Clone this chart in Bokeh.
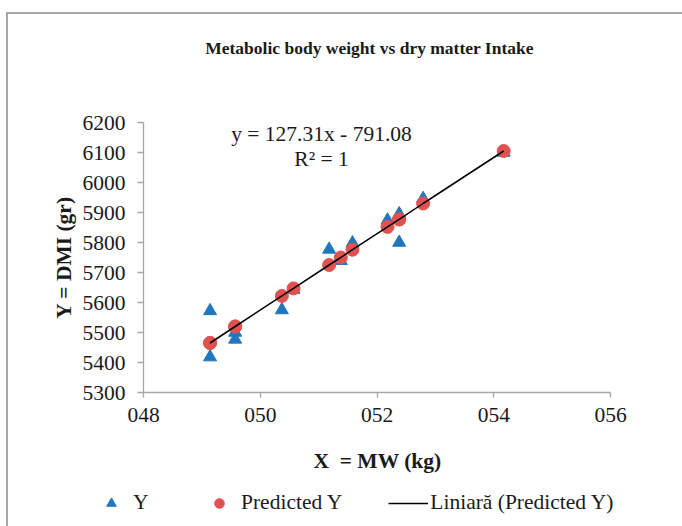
from bokeh.plotting import figure
from bokeh.models import (ColumnDataSource, FixedTicker, Label, Legend, LegendItem, Range1d)
from bokeh.embed import file_html
from bokeh.resources import INLINE
import math

# ---- data ----
mw_x = [49.14, 49.14, 49.57, 49.57, 50.37, 50.57, 51.18, 51.38, 51.58, 52.18, 52.38, 52.38, 52.79, 54.17]
dmi_y = [5572, 5418, 5500, 5477, 5575, 5643, 5777, 5739, 5798, 5874, 5895, 5800, 5946, 6100]
predicted_y = [5465, 5465, 5520, 5520, 5622, 5647, 5725, 5750, 5776, 5852, 5877, 5877, 5930, 6105]

x_ticks = [48, 50, 52, 54, 56]
x_tick_labels = ["048", "050", "052", "054", "056"]
y_ticks = [5300, 5400, 5500, 5600, 5700, 5800, 5900, 6000, 6100, 6200]
x_bounds = (48, 56)
y_bounds = (5300, 6200)

title_text = "Metabolic body weight vs dry matter Intake"
x_label = "X\u00a0 = MW (kg)"
y_label = "Y = DMI (gr)"
eq_text = "y = 127.31x - 791.08"
r2_text = "R² = 1"
legend_labels = ["Y", "Predicted Y", "Liniară (Predicted Y)"]

FONT = "Liberation Serif"
FS = "21.5px"
BLUE = "#2177be"
RED = "#e05252"
AXIS = "#a6a6a6"
TXT = "#1a1a1a"
BORDER = "#a8a8a8"

# the plotting frame fills the whole canvas; the ranges are chosen so that the
# axis interval 048-056 / 5300-6200 sits where the reference's plot area is
W, H = 682, 526
FL, FR, FT, FB = 143, 610, 122, 392          # plot-area edges in pixels
xpp = (x_bounds[1] - x_bounds[0]) / (FR - FL)
ypp = (y_bounds[1] - y_bounds[0]) / (FB - FT)
x_rng = Range1d(x_bounds[0] - FL * xpp, x_bounds[1] + (W - FR) * xpp)
y_rng = Range1d(y_bounds[0] - (H - FB) * ypp, y_bounds[1] + FT * ypp)

def px(xpix):
    return x_bounds[0] + (xpix - FL) * xpp

def py(ypix):
    return y_bounds[0] + (FB - ypix) * ypp

src_y = ColumnDataSource(dict(x=mw_x, y=dmi_y))
src_p = ColumnDataSource(dict(x=mw_x, y=predicted_y))

p = figure(width=W, height=H, output_backend="svg", toolbar_location=None,
           title_location=None, x_range=x_rng, y_range=y_rng,
           min_border_left=0, min_border_right=0, min_border_top=0, min_border_bottom=0)
p.outline_line_color = None
p.background_fill_color = None
p.border_fill_color = None
p.xgrid.visible = False
p.ygrid.visible = False
# outer chart border (top and left edges visible in the reference)
p.styles = {
    "background-color": "white",
    "background-image": f"linear-gradient({BORDER},{BORDER}), linear-gradient({BORDER},{BORDER})",
    "background-size": "100% 2px, 2px 100%",
    "background-position": "6px 12px, 6px 12px",
    "background-repeat": "no-repeat",
}

# axes drawn at the plot-area edges
p.xaxis.ticker = FixedTicker(ticks=x_ticks)
p.xaxis.major_label_overrides = {t: l for t, l in zip(x_ticks, x_tick_labels)}
p.yaxis.ticker = FixedTicker(ticks=y_ticks)
p.xaxis.fixed_location = y_bounds[0]
p.yaxis.fixed_location = x_bounds[0]
p.xaxis.bounds = x_bounds
p.yaxis.bounds = y_bounds
for ax in (p.xaxis, p.yaxis):
    ax.axis_line_color = AXIS
    ax.axis_line_width = 1.3
    ax.major_tick_line_color = AXIS
    ax.major_tick_line_width = 1.3
    ax.major_tick_in = 0
    ax.minor_tick_line_color = None
    ax.major_label_text_font = FONT
    ax.major_label_text_font_size = FS
    ax.major_label_text_color = TXT
p.xaxis.major_tick_out = 5
p.xaxis.major_label_standoff = 10
p.yaxis.major_tick_out = 6
p.yaxis.major_label_standoff = 12

# glyphs
r_y = p.scatter("x", "y", source=src_y, marker="triangle", size=13,
                fill_color=BLUE, line_color=BLUE)
r_p = p.scatter("x", "y", source=src_p, marker="circle", size=13,
                fill_color=RED, line_color=RED)
r_l = p.line("x", "y", source=src_p, line_color="black", line_width=1.5)

# texts (anchored at their visual centres)
def add_text(xp, yp, text, size=FS, bold=False, angle=0.0):
    p.add_layout(Label(x=px(xp), y=py(yp), text=text, text_font=FONT, text_font_size=size,
                       text_font_style="bold" if bold else "normal", text_align="center",
                       text_baseline="middle", angle=angle, text_color=TXT))

add_text(369, 47, title_text, size="17.5px", bold=True)
add_text(321, 133.5, eq_text)
add_text(321, 158.5, r2_text)
add_text(377, 460, x_label, bold=True)
add_text(63, 257, y_label, bold=True, angle=math.pi / 2)

# legend below the x axis
leg = Legend(items=[LegendItem(label=legend_labels[0], renderers=[r_y]),
                    LegendItem(label=legend_labels[1], renderers=[r_p]),
                    LegendItem(label=legend_labels[2], renderers=[r_l])],
             location=(91, 11), orientation="horizontal", padding=0, margin=0, spacing=46,
             glyph_width=40, glyph_height=24, label_height=24, label_standoff=2,
             border_line_color=None, background_fill_alpha=0,
             label_text_font=FONT, label_text_font_size=FS, label_text_color=TXT)
p.add_layout(leg, "center")

open("out.html", "w").write(file_html(p, INLINE))
